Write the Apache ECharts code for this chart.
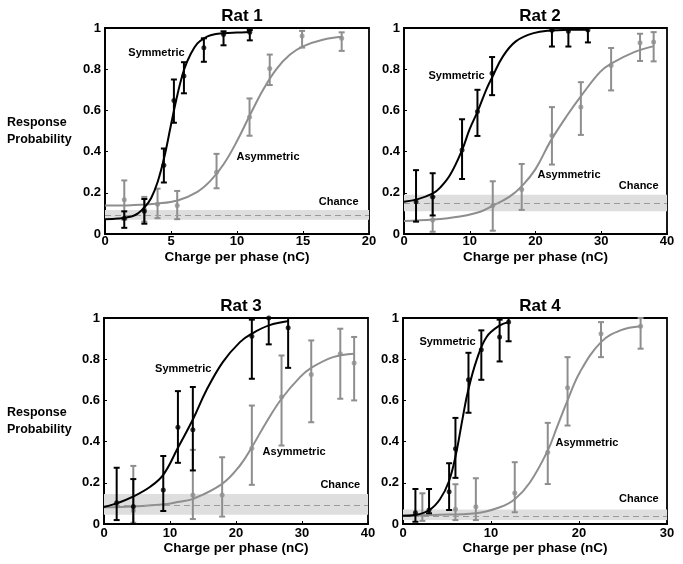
<!DOCTYPE html>
<html>
<head>
<meta charset="utf-8">
<script src="https://cdn.jsdelivr.net/npm/echarts@6/dist/echarts.min.js"></script>
<style>
html,body{margin:0;padding:0;background:#fff;}
#c{width:683px;height:564px;}
</style>
</head>
<body>
<div id="c"></div>
<script>
// ---------- DATA ----------
const panelTitles = ['Rat 1', 'Rat 2', 'Rat 3', 'Rat 4'];
const xMax = [20, 40, 40, 30];
const xInterval = [5, 10, 10, 10];
const yTicks = [0, 0.2, 0.4, 0.6, 0.8, 1];

// chance level (dashed) and band
const chanceLevel = [0.092, 0.149, 0.089, 0.04];
const chanceLow = [0.069, 0.11, 0.045, 0.02];
const chanceHigh = [0.117, 0.19, 0.146, 0.07];

// Rat 1
const rat1SymX = [1.46, 2.98, 4.46, 5.22, 5.98, 7.49, 8.98, 10.97];
const rat1SymY = [0.077, 0.11, 0.334, 0.648, 0.767, 0.904, 0.968, 0.979];
const rat1SymLo = [0.03, 0.05, 0.25, 0.54, 0.683, 0.836, 0.916, 0.94];
const rat1SymHi = [0.11, 0.17, 0.415, 0.75, 0.834, 0.95, 0.984, 0.99];
const rat1AsyX = [1.46, 2.98, 3.98, 5.47, 8.45, 10.95, 12.48, 14.93, 17.93];
const rat1AsyY = [0.166, 0.12, 0.145, 0.138, 0.30, 0.568, 0.804, 0.961, 0.95];
const rat1AsyLo = [0.07, 0.06, 0.077, 0.072, 0.222, 0.477, 0.723, 0.905, 0.889];
const rat1AsyHi = [0.26, 0.18, 0.22, 0.209, 0.389, 0.658, 0.871, 0.986, 0.979];
const rat1SymCurveX = [0, 1, 2, 2.5, 3, 3.5, 4, 4.5, 5, 5.5, 6, 6.5, 7, 7.5, 8, 9, 10, 11];
const rat1SymCurveY = [0.072, 0.075, 0.085, 0.10, 0.13, 0.175, 0.255, 0.375, 0.53, 0.68, 0.80, 0.875, 0.925, 0.95, 0.965, 0.975, 0.978, 0.98];
const rat1AsyCurveX = [0, 2, 4, 5.5, 7, 8, 9, 10, 11, 12, 13, 14, 15, 16.5, 18];
const rat1AsyCurveY = [0.138, 0.14, 0.148, 0.163, 0.205, 0.259, 0.34, 0.451, 0.58, 0.703, 0.802, 0.87, 0.911, 0.943, 0.957];

// Rat 2
const rat2SymX = [1.83, 4.36, 8.83, 11.17, 13.4, 22.5, 25.0, 27.97];
const rat2SymY = [0.157, 0.18, 0.408, 0.595, 0.78, 0.989, 0.984, 0.99];
const rat2SymLo = [0.06, 0.09, 0.267, 0.476, 0.674, 0.91, 0.91, 0.93];
const rat2SymHi = [0.31, 0.295, 0.557, 0.70, 0.859, 0.997, 0.997, 1.0];
const rat2AsyX = [4.36, 13.5, 17.9, 22.5, 26.9, 31.5, 35.9, 37.97];
const rat2AsyY = [0.068, 0.138, 0.216, 0.478, 0.616, 0.818, 0.929, 0.932];
const rat2AsyLo = [0.011, 0.016, 0.117, 0.337, 0.481, 0.697, 0.84, 0.838];
const rat2AsyHi = [0.181, 0.256, 0.34, 0.616, 0.737, 0.903, 0.972, 0.98];
const rat2SymCurveX = [0, 2, 4.4, 5.5, 7, 8.8, 10, 11.2, 12.5, 13.4, 15, 17, 19.7, 22.5, 25, 28];
const rat2SymCurveY = [0.157, 0.168, 0.197, 0.225, 0.286, 0.405, 0.51, 0.595, 0.70, 0.76, 0.86, 0.935, 0.975, 0.988, 0.991, 0.992];
const rat2AsyCurveX = [0, 4.4, 8.5, 11.6, 13.5, 16, 18, 20, 22.2, 24.8, 27, 29.8, 31.5, 35, 38];
const rat2AsyCurveY = [0.063, 0.07, 0.085, 0.108, 0.138, 0.18, 0.235, 0.315, 0.446, 0.575, 0.673, 0.786, 0.827, 0.883, 0.912];

// Rat 3
const rat3SymX = [1.92, 4.44, 8.98, 11.2, 13.46, 22.4, 24.96, 27.9];
const rat3SymY = [0.103, 0.085, 0.165, 0.47, 0.457, 0.911, 1.0, 0.953];
const rat3SymLo = [0.019, 0.0, 0.063, 0.297, 0.26, 0.705, 0.872, 0.758];
const rat3SymHi = [0.273, 0.218, 0.33, 0.645, 0.665, 0.992, 1.0, 1.0];
const rat3AsyX = [4.44, 13.46, 17.9, 22.4, 26.9, 31.4, 35.8, 37.9];
const rat3AsyY = [0.065, 0.141, 0.141, 0.368, 0.616, 0.726, 0.827, 0.781];
const rat3AsyLo = [0.006, 0.024, 0.036, 0.19, 0.381, 0.494, 0.608, 0.60];
const rat3AsyHi = [0.282, 0.36, 0.324, 0.575, 0.818, 0.891, 0.948, 0.908];
const rat3SymCurveX = [0, 1.9, 4.4, 7, 9, 11.2, 13.5, 15.5, 18, 20.6, 22.4, 25, 28];
const rat3SymCurveY = [0.082, 0.10, 0.133, 0.181, 0.24, 0.37, 0.51, 0.648, 0.786, 0.883, 0.924, 0.964, 0.985];
const rat3AsyCurveX = [0, 4.4, 9.5, 11.4, 13.5, 17.9, 20.6, 22.4, 24.6, 26.9, 29.7, 31.4, 34.7, 37.9];
const rat3AsyCurveY = [0.081, 0.085, 0.097, 0.108, 0.122, 0.195, 0.284, 0.373, 0.494, 0.608, 0.713, 0.758, 0.81, 0.827];

// Rat 4
const rat4SymX = [1.41, 2.96, 5.24, 5.96, 7.44, 8.9, 10.98, 12.0];
const rat4SymY = [0.055, 0.068, 0.157, 0.365, 0.70, 0.846, 0.908, 0.98];
const rat4SymLo = [0.011, 0.052, 0.068, 0.224, 0.54, 0.70, 0.789, 0.887];
const rat4SymHi = [0.17, 0.17, 0.295, 0.515, 0.831, 0.94, 0.992, 1.0];
const rat4AsyX = [2.2, 5.96, 8.28, 12.7, 16.45, 18.7, 22.5, 27.0];
const rat4AsyY = [0.045, 0.071, 0.084, 0.151, 0.348, 0.661, 0.924, 0.96];
const rat4AsyLo = [0.015, 0.019, 0.019, 0.057, 0.194, 0.478, 0.81, 0.851];
const rat4AsyHi = [0.149, 0.193, 0.222, 0.30, 0.491, 0.81, 0.98, 1.0];
const rat4SymCurveX = [0, 1.4, 3, 4.2, 5.2, 6, 6.8, 7.4, 8.4, 9.5, 11, 12];
const rat4SymCurveY = [0.04, 0.044, 0.068, 0.12, 0.205, 0.335, 0.519, 0.648, 0.80, 0.908, 0.964, 0.98];
const rat4AsyCurveX = [0, 3.4, 8.3, 11, 12.7, 14.4, 16.45, 17.5, 18.7, 20.1, 22.5, 24.7, 27];
const rat4AsyCurveY = [0.04, 0.044, 0.052, 0.081, 0.12, 0.20, 0.357, 0.47, 0.60, 0.737, 0.883, 0.94, 0.96];

const symX = [rat1SymX, rat2SymX, rat3SymX, rat4SymX];
const symY = [rat1SymY, rat2SymY, rat3SymY, rat4SymY];
const symLo = [rat1SymLo, rat2SymLo, rat3SymLo, rat4SymLo];
const symHi = [rat1SymHi, rat2SymHi, rat3SymHi, rat4SymHi];
const asyX = [rat1AsyX, rat2AsyX, rat3AsyX, rat4AsyX];
const asyY = [rat1AsyY, rat2AsyY, rat3AsyY, rat4AsyY];
const asyLo = [rat1AsyLo, rat2AsyLo, rat3AsyLo, rat4AsyLo];
const asyHi = [rat1AsyHi, rat2AsyHi, rat3AsyHi, rat4AsyHi];
const symCurveX = [rat1SymCurveX, rat2SymCurveX, rat3SymCurveX, rat4SymCurveX];
const symCurveY = [rat1SymCurveY, rat2SymCurveY, rat3SymCurveY, rat4SymCurveY];
const asyCurveX = [rat1AsyCurveX, rat2AsyCurveX, rat3AsyCurveX, rat4AsyCurveX];
const asyCurveY = [rat1AsyCurveY, rat2AsyCurveY, rat3AsyCurveY, rat4AsyCurveY];

// ---------- LAYOUT / STYLE ----------
const FONT = '"Liberation Sans", Arial, sans-serif';
const BLACK = '#000000';
const GRAY = '#8e8e8e';
const grids = [
  {left: 105, top: 28, width: 264, height: 206},
  {left: 404, top: 28, width: 263, height: 206},
  {left: 104, top: 318, width: 264, height: 206},
  {left: 403, top: 318, width: 264, height: 206}
];
const titlePos = [[237, 3], [535, 3], [236, 293], [535, 293]];
const nameGaps = [16, 16, 17, 17];
const xLabelMargins = [1, 1, 3, 3];
const labelPos = [
  {sym: [3.9, 0.877], asy: [12.35, 0.375], ch: [17.7, 0.157]},
  {sym: [8.0, 0.767], asy: [25.1, 0.286], ch: [35.7, 0.233]},
  {sym: [12.0, 0.752], asy: [28.8, 0.351], ch: [35.8, 0.19]},
  {sym: [5.06, 0.882], asy: [20.9, 0.392], ch: [26.8, 0.121]}
];

function pairs(xs, ys) { return xs.map((v, i) => [v, ys[i]]); }
function triples(xs, lo, hi) { return xs.map((v, i) => [v, lo[i], hi[i]]); }

function errRender(color) {
  return function (params, api) {
    const x = api.value(0);
    const p1 = api.coord([x, api.value(1)]);
    const p2 = api.coord([x, api.value(2)]);
    const w = 3;
    const st = {stroke: color, lineWidth: 2};
    return {
      type: 'group',
      children: [
        {type: 'line', shape: {x1: p1[0], y1: p1[1], x2: p2[0], y2: p2[1]}, style: st},
        {type: 'line', shape: {x1: p1[0] - w, y1: p1[1], x2: p1[0] + w, y2: p1[1]}, style: st},
        {type: 'line', shape: {x1: p2[0] - w, y1: p2[1], x2: p2[0] + w, y2: p2[1]}, style: st}
      ]
    };
  };
}

const option = {
  animation: false,
  backgroundColor: '#fff',
  textStyle: {fontFamily: FONT},
  title: panelTitles.map((t, i) => ({
    text: t, left: titlePos[i][0], top: titlePos[i][1], textAlign: 'center',
    textStyle: {fontFamily: FONT, fontWeight: 'bold', fontSize: 17, color: '#000'}
  })),
  grid: grids.map(g => Object.assign({show: true, borderColor: '#000', borderWidth: 1.8, backgroundColor: 'transparent'}, g)),
  xAxis: grids.map((g, i) => ({
    type: 'value', gridIndex: i, min: 0, max: xMax[i], interval: xInterval[i],
    name: 'Charge per phase (nC)', nameLocation: 'middle', nameGap: nameGaps[i],
    nameTextStyle: {fontFamily: FONT, fontWeight: 'bold', fontSize: 13.5, color: '#000'},
    axisLine: {show: true, lineStyle: {color: '#000', width: 1.8}},
    axisTick: {show: true, inside: true, length: 3, lineStyle: {color: '#000'}},
    axisLabel: {fontFamily: FONT, fontWeight: 'bold', fontSize: 13, color: '#000', margin: xLabelMargins[i]},
    splitLine: {show: false}
  })),
  yAxis: grids.map((g, i) => ({
    type: 'value', gridIndex: i, min: 0, max: 1, interval: 0.2,
    axisLine: {show: true, lineStyle: {color: '#000', width: 1.8}},
    axisTick: {show: true, inside: true, length: 3, lineStyle: {color: '#000'}},
    axisLabel: {fontFamily: FONT, fontWeight: 'bold', fontSize: 13, color: '#000', margin: 4,
      formatter: v => String(+v.toFixed(1))},
    splitLine: {show: false}
  })),
  graphic: [
    {type: 'text', left: 7, top: 114, style: {text: 'Response\nProbability', fontFamily: FONT, fontWeight: 'bold', fontSize: 12.5, lineHeight: 17, fill: '#000'}},
    {type: 'text', left: 7, top: 404, style: {text: 'Response\nProbability', fontFamily: FONT, fontWeight: 'bold', fontSize: 12.5, lineHeight: 17, fill: '#000'}}
  ],
  series: []
};

for (let i = 0; i < 4; i++) {
  const ax = {xAxisIndex: i, yAxisIndex: i};
  option.series.push(Object.assign({
    type: 'line', data: [], silent: true, z: 1,
    markArea: {silent: true, itemStyle: {color: '#dedede'}, data: [[{yAxis: chanceLow[i]}, {yAxis: chanceHigh[i]}]]},
    markLine: {silent: true, symbol: 'none', label: {show: false},
      lineStyle: {color: '#9a9a9a', type: [6, 4], width: 1.2}, data: [{yAxis: chanceLevel[i]}]}
  }, ax));
  option.series.push(Object.assign({
    type: 'line', data: pairs(asyCurveX[i], asyCurveY[i]), smooth: 0.4, showSymbol: false,
    lineStyle: {color: GRAY, width: 2}, z: 2
  }, ax));
  option.series.push(Object.assign({
    type: 'custom', data: triples(asyX[i], asyLo[i], asyHi[i]), renderItem: errRender(GRAY),
    encode: {x: 0, y: [1, 2]}, z: 3
  }, ax));
  option.series.push(Object.assign({
    type: 'scatter', data: pairs(asyX[i], asyY[i]), symbolSize: 5,
    itemStyle: {color: GRAY}, z: 4
  }, ax));
  option.series.push(Object.assign({
    type: 'line', data: pairs(symCurveX[i], symCurveY[i]), smooth: 0.4, showSymbol: false,
    lineStyle: {color: BLACK, width: 2}, z: 5
  }, ax));
  option.series.push(Object.assign({
    type: 'custom', data: triples(symX[i], symLo[i], symHi[i]), renderItem: errRender(BLACK),
    encode: {x: 0, y: [1, 2]}, z: 6
  }, ax));
  option.series.push(Object.assign({
    type: 'scatter', data: pairs(symX[i], symY[i]), symbolSize: 5,
    itemStyle: {color: BLACK}, z: 7
  }, ax));
  const lp = labelPos[i];
  [['Symmetric', lp.sym], ['Asymmetric', lp.asy], ['Chance', lp.ch]].forEach(([txt, pos]) => {
    option.series.push(Object.assign({
      type: 'scatter', data: [pos], symbolSize: 1, silent: true, z: 8,
      itemStyle: {color: 'rgba(0,0,0,0)'},
      label: {show: true, position: 'inside', formatter: txt, fontFamily: FONT, fontWeight: 'bold',
        fontSize: 11, color: '#000', textBorderWidth: 0, opacity: 1}
    }, ax));
  });
}

const chart = echarts.init(document.getElementById('c'), null, {renderer: 'canvas'});
chart.setOption(option);
</script>
</body>
</html>
